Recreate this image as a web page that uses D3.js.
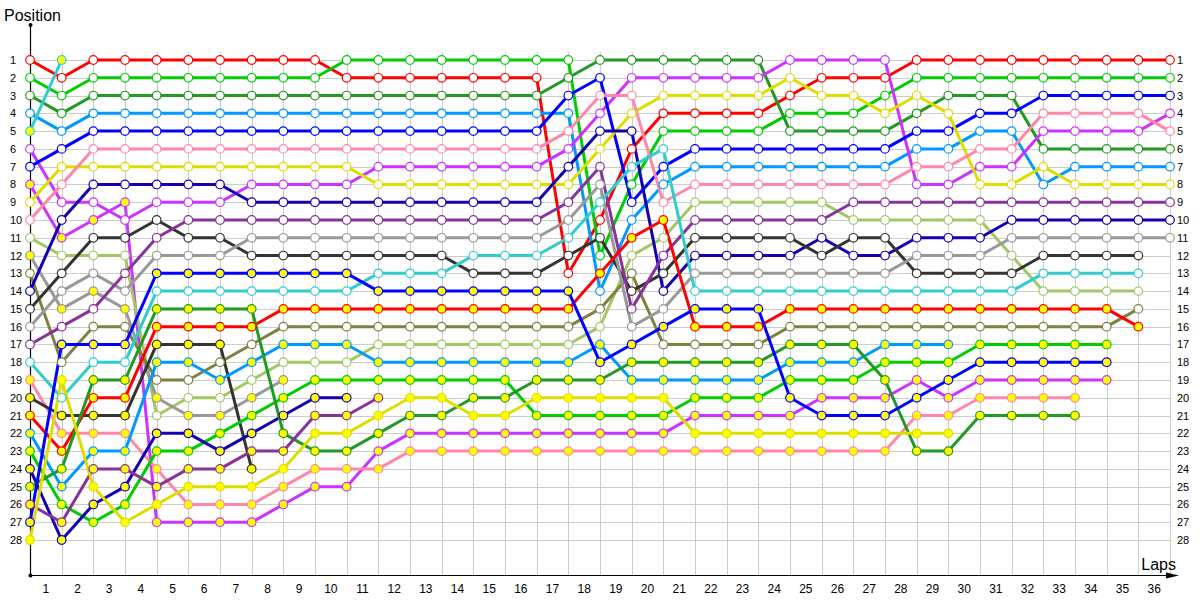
<!DOCTYPE html>
<html><head><meta charset="utf-8">
<script src="https://cdn.jsdelivr.net/npm/d3@7"></script>
<style>
body{margin:0;background:#fff;}
svg{display:block;font-family:"Liberation Sans",Arial,sans-serif;}
</style>
</head><body>
<svg id="chart" width="1200" height="600"></svg>
<script>
// ---- data ----
const lapLabels = d3.range(1, 37);          // 1..36
const positionLabels = d3.range(1, 29);     // 1..28

const driverColors = [
  "#ff0000", "#00cc00", "#229922", "#0099ff", "#33cccc", "#cc33ff", "#0000ff",
  "#cc33ff", "#dddd00", "#ff88aa", "#a0c864", "#999999", "#808040", "#1400b0",
  "#333333", "#999999", "#883399", "#33cccc", "#ff88aa", "#333333", "#ff0000",
  "#0099ff", "#00cc00", "#1400b0", "#229922", "#883399", "#0000ff", "#dddd00"
];
const driverFills = [
  "#ffffff", "#ffffff", "#ffffff", "#ffffff", "#ffff00", "#ffffff", "#ffffff",
  "#ffff00", "#ffffff", "#ffffff", "#ffffff", "#ffff00", "#ffffff", "#ffffff",
  "#ffffff", "#ffffff", "#ffffff", "#ffffff", "#ffff00", "#ffff00", "#ffff00",
  "#ffff00", "#ffff00", "#ffff00", "#ffff00", "#ffff00", "#ffff00", "#ffff00"
];
// position after each lap (index 0 = start)
const driverPositions = [
  [1,2,1,1,1,1,1,1,1,1,2,2,2,2,2,2,2,13,10,6,4,4,4,4,3,2,2,2,1,1,1,1,1,1,1,1,1],
  [2,3,2,2,2,2,2,2,2,2,1,1,1,1,1,1,1,1,12,8,5,5,5,5,4,4,4,3,2,2,2,2,2,2,2,2,2],
  [3,4,3,3,3,3,3,3,3,3,3,3,3,3,3,3,3,2,1,1,1,1,1,1,5,5,5,5,4,3,3,3,6,6,6,6,6],
  [4,5,4,4,4,4,4,4,4,4,4,4,4,4,4,4,4,4,14,10,8,7,7,7,7,7,7,7,6,6,5,5,8,7,7,7,7],
  [5,1],
  [6,9,9,10,9,9,9,8,8,8,8,7,7,7,7,7,7,6,4,2,2,2,2,2,1,1,1,1,8,8,7,7,5,5,5,5,4],
  [7,6,5,5,5,5,5,5,5,5,5,5,5,5,5,5,5,3,2,9,7,6,6,6,6,6,6,6,5,5,4,4,3,3,3,3,3],
  [8,11,10,9,27,27,27,27,26,25,25,23,22,22,22,22,22,22,22,22,22,21,21,21,21,20,20,20,19,20,19,19,19,19,19],
  [9,7,7,7,7,7,7,7,7,7,7,8,8,8,8,8,8,8,6,4,3,3,3,3,2,3,3,4,3,4,8,8,7,8,8,8,8],
  [10,8,6,6,6,6,6,6,6,6,6,6,6,6,6,6,6,5,3,3,9,8,8,8,8,8,8,8,7,7,6,6,4,4,4,4,5],
  [11,12,12,12,21,20,20,19,18,18,18,17,17,17,17,17,17,17,16,12,11,9,9,9,9,9,10,10,10,10,10,12,14,14,14,14],
  [12,15,14,15,20,21,21,20,19],
  [13,18,16,16,19,19,18,17,16,16,16,16,16,16,16,16,16,16,15,13,17,17,17,17,16,16,16,16,16,16,16,16,16,16,16,15],
  [14,10,8,8,8,8,8,9,9,9,9,9,9,9,9,9,9,7,5,5,14,12,12,12,12,11,12,12,11,11,11,10,10,10,10,10,10],
  [15,13,11,11,10,11,11,12,12,12,12,12,12,12,13,13,13,12,11,14,13,11,11,11,11,12,11,11,13,13,13,13,12,12,12,12],
  [16,14,13,14,12,12,12,11,11,11,11,11,11,11,11,11,11,10,8,16,15,13,13,13,13,13,13,13,12,12,12,11,11,11,11,11,11],
  [17,16,15,13,11,10,10,10,10,10,10,10,10,10,10,10,10,9,7,15,12,10,10,10,10,10,9,9,9,9,9,9,9,9,9,9,9],
  [18,20,18,18,14,14,14,14,14,14,14,13,13,13,12,12,12,11,9,7,6,14,14,14,14,14,14,14,14,14,14,14,13,13,13,13],
  [19,22,22,22,24,26,26,26,25,24,24,24,23,23,23,23,23,23,23,23,23,23,23,23,23,23,23,23,21,21,20,20,20,20],
  [20,21,21,21,17,17,17,24],
  [21,23,20,20,16,16,16,16,15,15,15,15,15,15,15,15,15,15,13,11,10,16,16,16,15,15,15,15,15,15,15,15,15,15,15,16],
  [22,25,23,23,18,18,19,18,17,17,17,18,18,18,18,18,18,18,17,19,19,19,19,19,18,18,18,17,17,17],
  [23,26,27,26,23,23,22,21,20,19,19,19,19,19,19,19,21,21,21,21,21,20,20,20,19,19,19,18,18,18,17,17,17,17,17],
  [24,28,26,25,22,22,23,22,21,20,20],
  [25,24,19,19,15,15,15,15,22,23,23,22,21,21,20,20,19,19,19,18,18,18,18,18,17,17,17,19,23,23,21,21,21,21],
  [26,27,24,24,25,24,24,23,23,21,21,20],
  [27,17,17,17,13,13,13,13,13,13,13,14,14,14,14,14,14,14,18,17,16,15,15,15,20,21,21,21,20,19,18,18,18,18,18],
  [28,19,25,27,26,25,25,25,24,22,22,21,20,20,21,21,20,20,20,20,20,22,22,22,22,22,22,22,22,22]
];

// ---- drawing ----
const svg = d3.select("#chart");
const x = d3.scaleLinear().domain([0, 36]).range([30, 1170]);
const y = d3.scaleLinear().domain([1, 28]).range([60, 540]);
const xBand = d3.scaleBand().domain(lapLabels).range([30, 1170]).padding(0);

const grid = svg.append("g").attr("stroke", "#cccccc").attr("stroke-width", 1);
grid.selectAll("line.v").data(d3.range(0, 37)).join("line")
  .attr("class", "v")
  .attr("x1", d => Math.round(x(d)) + 0.5).attr("x2", d => Math.round(x(d)) + 0.5)
  .attr("y1", 52).attr("y2", 575);
grid.selectAll("line.h").data(positionLabels).join("line")
  .attr("class", "h")
  .attr("x1", 30).attr("x2", 1170)
  .attr("y1", d => Math.round(y(d)) + 0.5).attr("y2", d => Math.round(y(d)) + 0.5);

// axes labels via d3 axes
const leftAxis = svg.append("g").attr("transform", "translate(30,0)")
  .call(d3.axisLeft(y).tickValues(positionLabels).tickSize(0).tickFormat(d3.format("d")));
leftAxis.select(".domain").remove();
leftAxis.selectAll("text").attr("text-anchor", "start").attr("x", -20)
  .attr("font-size", 11).attr("font-family", "Liberation Sans, Arial, sans-serif").attr("fill", "#000");

const rightAxis = svg.append("g").attr("transform", "translate(1170,0)")
  .call(d3.axisRight(y).tickValues(positionLabels).tickSize(0).tickPadding(7).tickFormat(d3.format("d")));
rightAxis.select(".domain").remove();
rightAxis.selectAll("text").attr("font-size", 11)
  .attr("font-family", "Liberation Sans, Arial, sans-serif").attr("fill", "#000");

const bottomAxis = svg.append("g").attr("transform", "translate(0,575)")
  .call(d3.axisBottom(xBand).tickSize(0).tickPadding(9));
bottomAxis.select(".domain").remove();
bottomAxis.selectAll("text").attr("font-size", 12)
  .attr("font-family", "Liberation Sans, Arial, sans-serif").attr("fill", "#000");

// axis lines
svg.append("line").attr("x1", 30.5).attr("x2", 30.5).attr("y1", 25).attr("y2", 575.5)
  .attr("stroke", "#000").attr("stroke-width", 1.2);
svg.append("line").attr("x1", 30).attr("x2", 1170).attr("y1", 575.5).attr("y2", 575.5)
  .attr("stroke", "#000").attr("stroke-width", 1.2);
svg.append("path").attr("d", "M1166,572.5 L1179,575.5 L1166,578.5 Z").attr("fill", "#000");
svg.append("line").attr("x1", 1166).attr("x2", 1170).attr("y1", 575.5).attr("y2", 575.5).attr("stroke", "#000");
svg.append("circle").attr("cx", 30.5).attr("cy", 25).attr("r", 2).attr("fill", "#000");
svg.append("circle").attr("cx", 30.5).attr("cy", 575.5).attr("r", 2).attr("fill", "#000");

svg.append("text").attr("x", 4).attr("y", 21).attr("font-size", 16).text("Position");
svg.append("text").attr("x", 1176).attr("y", 570).attr("text-anchor", "end").attr("font-size", 16).text("Laps");

// series
const drivers = driverPositions.map((p, i) => ({ pos: p, color: driverColors[i], fill: driverFills[i] }));
const line = d3.line().x((d, i) => x(i)).y(d => y(d));

svg.append("g").selectAll("path").data(drivers).join("path")
  .attr("d", d => line(d.pos))
  .attr("fill", "none")
  .attr("stroke", d => d.color)
  .attr("stroke-width", 3)
  .attr("stroke-linejoin", "round")
  .attr("stroke-linecap", "round");

const markers = svg.append("g");
drivers.forEach(d => {
  markers.append("g").selectAll("circle").data(d.pos).join("circle")
    .attr("cx", (v, i) => x(i))
    .attr("cy", v => y(v))
    .attr("r", 4.3)
    .attr("fill", d.fill)
    .attr("stroke", d.color)
    .attr("stroke-width", 1.2);
});
</script>
</body></html>
